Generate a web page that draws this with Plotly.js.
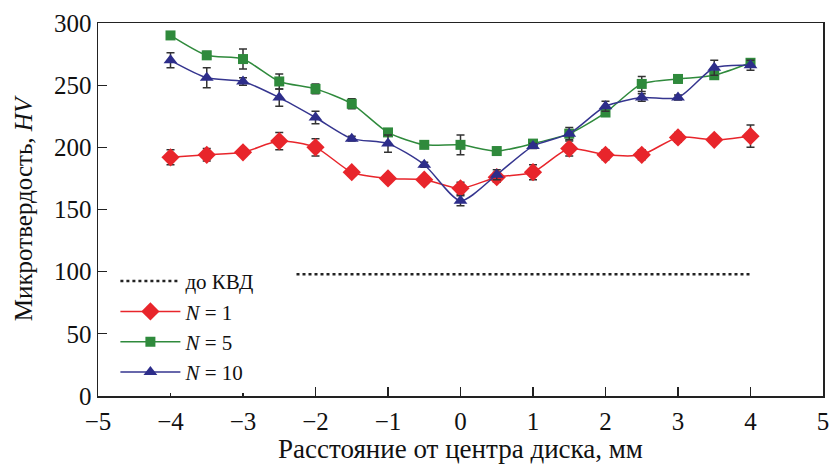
<!DOCTYPE html>
<html>
<head>
<meta charset="utf-8">
<script src="https://cdn.plot.ly/plotly-3.0.1.min.js"></script>
<style>html,body{margin:0;padding:0;background:#fff;}#chart{width:831px;height:464px;}</style>
</head>
<body>
<div id="chart"></div>
<script>
const xPos = [-4, -3.5, -3, -2.5, -2, -1.5, -1, -0.5, 0, 0.5, 1, 1.5, 2, 2.5, 3, 3.5, 4];
const n1 = [192, 194, 196, 205, 200, 180, 175, 174, 167, 176, 180, 199, 194, 194, 208, 206, 209];
const n1Err = [6, 5, 3, 7, 7, 3, 2, 2, 5, 4, 6, 6, 4, 4, 4, 2, 9];
const n5 = [290, 274, 271, 253, 247, 235, 212, 202, 202, 197, 203, 211, 228, 251, 255, 258, 268];
const n5Err = [2, 3, 8, 6, 4, 4, 3, 2, 8, 3, 3, 3, 2, 6, 3, 2, 2];
const n10 = [270, 256, 253, 240, 224, 207, 203, 186, 157, 178, 201, 211, 233, 240, 240, 264, 266];
const n10Err = [6, 8, 3, 7, 5, 2, 7, 2, 4, 4, 2, 5, 4, 3, 2, 6, 4];
const baseX = [-4, 4];
const baseY = [98, 98];
const names = ['до КВД\u00a0\u00a0\u00a0\u00a0\u00a0\u00a0\u00a0', '<i>N</i> = 1', '<i>N</i> = 5', '<i>N</i> = 10'];

const serif = '"Liberation Serif", "Times New Roman", serif';
const errStyle = (arr) => ({type: 'data', array: arr, visible: true, color: '#333', thickness: 1.5, width: 4});

const traces = [
  {x: baseX, y: baseY, name: names[0], mode: 'lines', line: {color: '#222', width: 2.5, dash: 'dot'}},
  {x: xPos, y: n1, name: names[1], mode: 'lines+markers', line: {color: '#e8252b', width: 1.5, shape: 'spline', smoothing: 0.7},
   marker: {symbol: 'diamond', size: 14, color: '#e8252b'}, error_y: errStyle(n1Err)},
  {x: xPos, y: n5, name: names[2], mode: 'lines+markers', line: {color: '#2f8a3c', width: 1.5, shape: 'spline', smoothing: 0.7},
   marker: {symbol: 'square', size: 10, color: '#2f8a3c'}, error_y: errStyle(n5Err)},
  {x: xPos, y: n10, name: names[3], mode: 'lines+markers', line: {color: '#35358f', width: 1.5, shape: 'spline', smoothing: 0.7},
   marker: {symbol: 'triangle-up', size: 12, color: '#2d2d8a'}, error_y: errStyle(n10Err)}
];

const layout = {
  width: 831, height: 464,
  margin: {l: 98, r: 8, t: 23, b: 68},
  paper_bgcolor: '#fff', plot_bgcolor: '#fff',
  font: {family: serif, size: 25, color: '#111'},
  showlegend: true,
  legend: {x: 0.024, y: 0.362, xanchor: 'left', yanchor: 'top', bgcolor: '#fff', borderwidth: 0,
           font: {family: serif, size: 21, color: '#111'}, tracegroupgap: 0, itemwidth: 60},
  xaxis: {range: [-5, 5], dtick: 1, tick0: 0, ticks: 'inside', ticklen: 9, tickwidth: 1.2, tickcolor: '#222',
          showline: true, linewidth: 1.5, linecolor: '#222', mirror: true, showgrid: false, zeroline: false,
          ticklabelstandoff: 2,
          tickfont: {family: serif, size: 25, color: '#111'},
          title: {text: 'Расстояние от центра диска, мм', font: {family: serif, size: 27, color: '#111'}, standoff: 14}},
  yaxis: {range: [0, 300], dtick: 50, tick0: 0, ticks: 'inside', ticklen: 9, tickwidth: 1.2, tickcolor: '#222',
          showline: true, linewidth: 1.5, linecolor: '#222', mirror: true, showgrid: false, zeroline: false,
          tickfont: {family: serif, size: 25, color: '#111'},
          title: {text: 'Микротвердость, <i>HV</i>', font: {family: serif, size: 25, color: '#111'}, standoff: 14}}
};

Plotly.newPlot('chart', traces, layout, {displayModeBar: false, staticPlot: true});
</script>
</body>
</html>
